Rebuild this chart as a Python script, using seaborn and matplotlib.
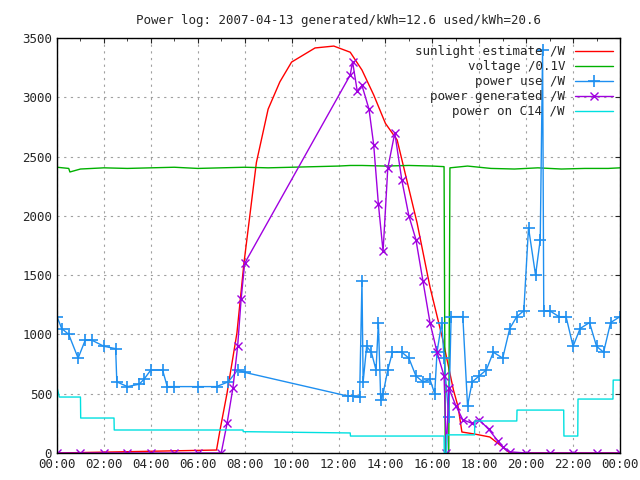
import numpy as np
import pandas as pd
import matplotlib
matplotlib.use("Agg")
import matplotlib.pyplot as plt
import seaborn as sns

# ----------------------------
# Data (hours of day, values)
# ----------------------------

sun_h = [0, 6.8, 6.95, 7.25, 7.67, 7.97, 8.5, 9.0, 9.5, 10.0, 11.0, 11.8, 12.5, 13.0,
         13.5, 14.0, 14.5, 15.35, 15.9, 16.45, 16.9, 17.1, 17.26, 17.8, 18.45, 19.0,
         19.3, 24]
sun_w = [0, 25, 194, 506, 1012, 1602, 2450, 2900, 3130, 3297, 3416, 3432, 3380, 3230,
         3020, 2780, 2640, 1940, 1400, 953, 531, 388, 177, 160, 135, 50, 0, 0]

volt_h = [0, 0.5, 0.55, 1.0, 2.0, 3.0, 4.0, 5.0, 6.0, 7.0, 8.0, 9.0, 10.0, 11.0,
          12.0, 12.5, 13.0, 14.0, 15.0, 16.0, 16.5, 16.55, 16.7, 16.75, 17.5,
          18.5, 19.5, 20.5, 21.5, 22.5, 23.5, 24]
volt_v = [2410, 2400, 2370, 2395, 2405, 2400, 2405, 2410, 2400, 2405, 2410, 2405,
          2410, 2415, 2420, 2425, 2425, 2420, 2425, 2420, 2415, 0, 0, 2405, 2420,
          2400, 2395, 2405, 2395, 2400, 2400, 2405]

use_h = [0, 0.2, 0.5, 0.9, 1.2, 1.5, 2.0, 2.5, 2.55, 3.0, 3.5, 3.7, 4.0, 4.5, 4.7,
         5.0, 6.0, 6.8, 7.3, 7.7, 8.0, 12.4, 12.6, 12.9, 13.0, 13.05, 13.2, 13.4,
         13.6, 13.7, 13.8, 13.9, 14.1, 14.3, 14.7, 15.0, 15.3, 15.6, 15.9, 16.1,
         16.2, 16.4, 16.5, 16.7, 16.8, 17.3, 17.5, 17.7, 18.0, 18.3, 18.6, 19.0,
         19.3, 19.6, 19.9, 20.1, 20.4, 20.6, 20.7, 20.75, 21.0, 21.4, 21.7, 22.0,
         22.3, 22.7, 23.0, 23.3, 23.6, 24.0]
use_w = [1150, 1050, 1000, 800, 950, 950, 900, 880, 600, 560, 580, 620, 700, 700,
         560, 560, 560, 560, 600, 700, 680, 480, 480, 470, 1450, 600, 900, 850,
         700, 1100, 450, 500, 700, 850, 850, 800, 650, 600, 620, 500, 850, 1100,
         800, 300, 1150, 1150, 400, 600, 650, 700, 850, 800, 1050, 1150, 1200,
         1900, 1500, 1800, 3400, 1200, 1200, 1150, 1150, 900, 1050, 1100, 900,
         850, 1100, 1150]

gen_h = [0, 1, 2, 3, 4, 5, 6, 7.0, 7.25, 7.5, 7.7, 7.85, 8.0, 12.5, 12.6, 12.8,
         13.0, 13.3, 13.5, 13.7, 13.9, 14.1, 14.4, 14.7, 15.0, 15.3, 15.6, 15.9,
         16.2, 16.5, 16.6, 16.7, 17.0, 17.3, 17.7, 18.0, 18.4, 18.8, 19.0, 19.3,
         20, 21, 22, 23, 24]
gen_w = [0, 0, 0, 0, 0, 0, 0, 0, 250, 550, 900, 1300, 1600, 3188, 3300, 3050,
         3100, 2900, 2600, 2100, 1700, 2400, 2700, 2300, 2000, 1800, 1450, 1100,
         850, 650, 0, 550, 400, 280, 250, 280, 200, 100, 50, 10, 0, 0, 0, 0, 0]

c14_h = [0, 0.1, 1.0, 1.01, 2.43, 2.44, 7.93, 7.94, 12.5, 12.51, 16.5, 16.51,
         16.6, 16.61, 17.8, 17.81, 19.6, 19.61, 21.6, 21.61, 22.2, 22.21, 23.7,
         23.71, 24]
c14_w = [556, 472, 472, 295, 295, 194, 194, 180, 169, 143, 143, 0, 0, 153, 153,
         270, 270, 362, 362, 143, 143, 455, 455, 615, 615]

hour_ticks = list(range(0, 25, 2))
hour_labels = ["%02d:00" % (h % 24) for h in hour_ticks]

# ----------------------------
# Plot
# ----------------------------

sns.set_style("white")
plt.rcParams["font.family"] = ["DejaVu Sans Mono"]

fig, ax = plt.subplots(figsize=(6.4, 4.8), dpi=100)
fig.subplots_adjust(left=57 / 640, right=620 / 640, top=1 - 38 / 480, bottom=1 - 453 / 480)

sns.lineplot(x=sun_h, y=sun_w, ax=ax, color="#ff0000", lw=1, sort=False,
             label="sunlight estimate /W")
sns.lineplot(x=volt_h, y=volt_v, ax=ax, color="#00b000", lw=1, sort=False,
             label="voltage /0.1V")
sns.lineplot(x=use_h, y=use_w, ax=ax, color="#1e8ff0", lw=1, sort=False,
             marker="+", markersize=9, markeredgewidth=1.2,
             markeredgecolor="#1e8ff0", label="power use /W")
sns.lineplot(x=gen_h, y=gen_w, ax=ax, color="#a000e0", lw=1, sort=False,
             marker="x", markersize=6, markeredgewidth=1,
             markeredgecolor="#a000e0", label="power generated /W")
sns.lineplot(x=c14_h, y=c14_w, ax=ax, color="#00e0e0", lw=1, sort=False,
             label="power on C14 /W")

ax.set_xlim(0, 24)
ax.set_ylim(0, 3500)
ax.set_xticks(hour_ticks)
ax.set_xticklabels(hour_labels)
ax.set_xticks(range(0, 25), minor=True)
ax.set_yticks(range(0, 3501, 500))
ax.tick_params(direction="in", labelsize=9, top=True, right=True, which="both")
ax.grid(True, linestyle=(0, (2, 4)), color="#a0a0a0", lw=0.8)
for s in ax.spines.values():
    s.set_color("black")
    s.set_linewidth(1)
ax.set_xlabel("")
ax.set_ylabel("")

ax.set_title("Power log: 2007-04-13 generated/kWh=12.6 used/kWh=20.6",
             fontsize=9, pad=10)

ax.legend(loc="upper right", frameon=False, markerfirst=False, fontsize=9,
          handlelength=3, labelspacing=0.15, borderaxespad=0.2)
for t in ax.get_legend().get_texts():
    t.set_ha("right")

plt.savefig("out.png", dpi=100)
